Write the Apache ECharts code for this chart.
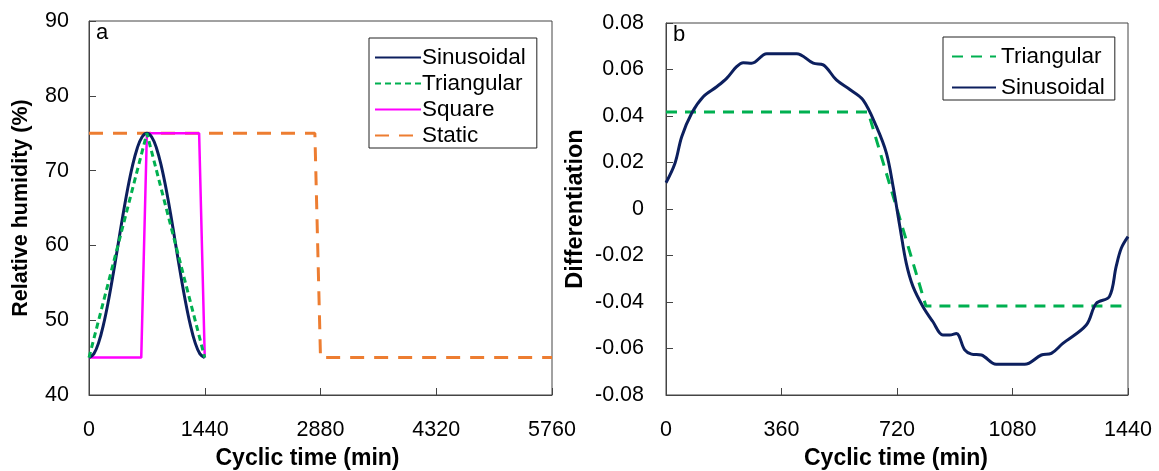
<!DOCTYPE html>
<html>
<head>
<meta charset="utf-8">
<script src="https://cdn.jsdelivr.net/npm/echarts@6/dist/echarts.min.js"></script>
<style>
  html, body { margin: 0; padding: 0; background: #fff; }
  #main { width: 1159px; height: 471px; }
</style>
</head>
<body>
<div id="main"></div>
<script>
// panel a: relative humidity (%) vs cyclic time (min)
var sinT = [0, 60, 120, 180, 240, 300, 360, 420, 480, 540, 600, 660, 720, 780, 840, 900, 960, 1020, 1080, 1140, 1200, 1260, 1320, 1380, 1440];
var sinRH = [45, 45.5, 47, 49.4, 52.5, 56.1, 60, 63.9, 67.5, 70.6, 73, 74.5, 75, 74.5, 73, 70.6, 67.5, 63.9, 60, 56.1, 52.5, 49.4, 47, 45.5, 45];
var triT = [0, 720, 1440];
var triRH = [45, 75, 45];
var sqT = [0, 650, 720, 1370, 1440];
var sqRH = [45, 45, 75, 75, 45];
var staT = [0, 2810, 2880, 5760];
var staRH = [75, 75, 45, 45];

// panel b: differentiation vs cyclic time (min)
var dSinT = [0, 28, 49, 80, 116, 158, 189, 220, 241, 267, 314, 360, 407, 459, 490, 531, 573, 614, 656, 687, 708, 729, 749, 770, 801, 832, 863, 884, 905, 931, 952, 983, 1029, 1080, 1118, 1170, 1201, 1237, 1310, 1341, 1382, 1403, 1419, 1440];
var dSinV = [0.0113, 0.0197, 0.0311, 0.0412, 0.0483, 0.0526, 0.0562, 0.0612, 0.0629, 0.0627, 0.0668, 0.0668, 0.0668, 0.0627, 0.062, 0.0555, 0.0514, 0.0469, 0.0354, 0.024, 0.0096, -0.0076, -0.0234, -0.0334, -0.042, -0.0485, -0.0542, -0.0542, -0.0535, -0.0606, -0.0624, -0.0628, -0.0668, -0.0668, -0.0668, -0.0628, -0.0621, -0.0578, -0.0499, -0.0406, -0.0377, -0.0248, -0.0169, -0.0119];
var dTriT = [0, 630, 810, 1440];
var dTriV = [0.0417, 0.0417, -0.0417, -0.0417];

function pairs(xs, ys) {
    var out = [];
    for (var i = 0; i < xs.length; i++) out.push([xs[i], ys[i]]);
    return out;
}

var FONT = 'Liberation Sans';
var axisCol = '#444';
var tickFont = 21.5;

function xAxisOf(gi, maxV, step) {
    return {
        type: 'value', gridIndex: gi, min: 0, max: maxV, interval: step,
        name: 'Cyclic time (min)', nameLocation: 'middle', nameGap: 52,
        nameTextStyle: { fontFamily: FONT, fontSize: 23, fontWeight: 'bold', color: '#000',
            padding: gi === 0 ? [0, 26, 0, 0] : [0, 2, 0, 0] },
        axisLine: { show: true, onZero: false, lineStyle: { color: axisCol, width: 1 } },
        axisTick: { show: true, inside: true, length: 7, lineStyle: { color: axisCol } },
        axisLabel: { fontFamily: FONT, fontSize: tickFont, color: '#000', margin: 24,
            formatter: function (v) { return String(v); } },
        splitLine: { show: false }
    };
}

var chart = echarts.init(document.getElementById('main'));
chart.setOption({
    animation: false,
    backgroundColor: '#fff',
    grid: [
        { left: 89, top: 21, width: 463, height: 374, show: true, borderColor: axisCol, borderWidth: 1, outerBoundsMode: 'none' },
        { left: 666, top: 23, width: 462, height: 372, show: true, borderColor: axisCol, borderWidth: 1, outerBoundsMode: 'none' }
    ],
    xAxis: [xAxisOf(0, 5760, 1440), xAxisOf(1, 1440, 360)],
    yAxis: [
        {
            type: 'value', gridIndex: 0, min: 40, max: 90, interval: 10,
            name: 'Relative humidity (%)', nameLocation: 'middle', nameGap: 57,
            nameTextStyle: { fontFamily: FONT, fontSize: 21.5, fontWeight: 'bold', color: '#000' },
            axisLine: { show: true, onZero: false, lineStyle: { color: axisCol, width: 1 } },
            axisTick: { show: true, inside: true, length: 7, lineStyle: { color: axisCol } },
            axisLabel: { fontFamily: FONT, fontSize: tickFont, color: '#000', margin: 20 },
            splitLine: { show: false }
        },
        {
            type: 'value', gridIndex: 1, min: -0.08, max: 0.08, interval: 0.02,
            name: 'Differentiation', nameLocation: 'middle', nameGap: 78,
            nameTextStyle: { fontFamily: FONT, fontSize: 23.5, fontWeight: 'bold', color: '#000' },
            axisLine: { show: true, onZero: false, lineStyle: { color: axisCol, width: 1 } },
            axisTick: { show: true, inside: true, length: 7, lineStyle: { color: axisCol } },
            axisLabel: { fontFamily: FONT, fontSize: tickFont, color: '#000', margin: 22,
                formatter: function (v) { return Math.abs(v) < 1e-9 ? '0' : v.toFixed(2); } },
            splitLine: { show: false }
        }
    ],
    legend: [
        {
            data: ['Sinusoidal', 'Triangular', 'Square', 'Static'],
            orient: 'vertical', left: 369, top: 38,
            padding: [8, 11, 1, 5],
            borderColor: '#222', borderWidth: 1,
            itemWidth: 46, itemHeight: 14, itemGap: 3,
            itemStyle: { opacity: 0, borderWidth: 0 },
            textStyle: { fontFamily: FONT, fontSize: 22.5, color: '#000', padding: [0, 0, 0, -4] }
        },
        {
            data: ['Triangular b', 'Sinusoidal b'],
            formatter: function (n) { return n.replace(' b', ''); },
            orient: 'vertical', left: 943, top: 37,
            padding: [8, 10, 1, 8],
            borderColor: '#222', borderWidth: 1,
            itemWidth: 44, itemHeight: 14, itemGap: 8,
            itemStyle: { opacity: 0, borderWidth: 0 },
            textStyle: { fontFamily: FONT, fontSize: 22.5, color: '#000' }
        }
    ],
    graphic: [
        { type: 'text', left: 96, top: 22, style: { text: 'a', font: '22px "Liberation Sans"', fill: '#000' } },
        { type: 'text', left: 673, top: 24, style: { text: 'b', font: '22px "Liberation Sans"', fill: '#000' } }
    ],
    series: [
        {
            name: 'Static', type: 'line', xAxisIndex: 0, yAxisIndex: 0, symbol: 'none', z: 1,
            data: pairs(staT, staRH), color: '#ed7d31',
            lineStyle: { color: '#ed7d31', width: 3, type: [14, 10] }
        },
        {
            name: 'Square', type: 'line', xAxisIndex: 0, yAxisIndex: 0, symbol: 'none', z: 2,
            data: pairs(sqT, sqRH), color: '#ff00ff',
            lineStyle: { color: '#ff00ff', width: 2.5 }
        },
        {
            name: 'Sinusoidal', type: 'line', xAxisIndex: 0, yAxisIndex: 0, symbol: 'none', smooth: 0.4, z: 3,
            data: pairs(sinT, sinRH), color: '#0c1f5e',
            lineStyle: { color: '#0c1f5e', width: 3 }
        },
        {
            name: 'Triangular', type: 'line', xAxisIndex: 0, yAxisIndex: 0, symbol: 'none', z: 4,
            data: pairs(triT, triRH), color: '#00b050',
            lineStyle: { color: '#00b050', width: 3, type: [6, 4] }
        },
        {
            name: 'Triangular b', type: 'line', xAxisIndex: 1, yAxisIndex: 1, symbol: 'none', z: 2,
            data: pairs(dTriT, dTriV), color: '#00b050',
            lineStyle: { color: '#00b050', width: 3, type: [11, 8] }
        },
        {
            name: 'Sinusoidal b', type: 'line', xAxisIndex: 1, yAxisIndex: 1, symbol: 'none', smooth: 0.35, z: 3,
            data: pairs(dSinT, dSinV), color: '#0c1f5e',
            lineStyle: { color: '#0c1f5e', width: 3 }
        }
    ]
});
</script>
</body>
</html>
